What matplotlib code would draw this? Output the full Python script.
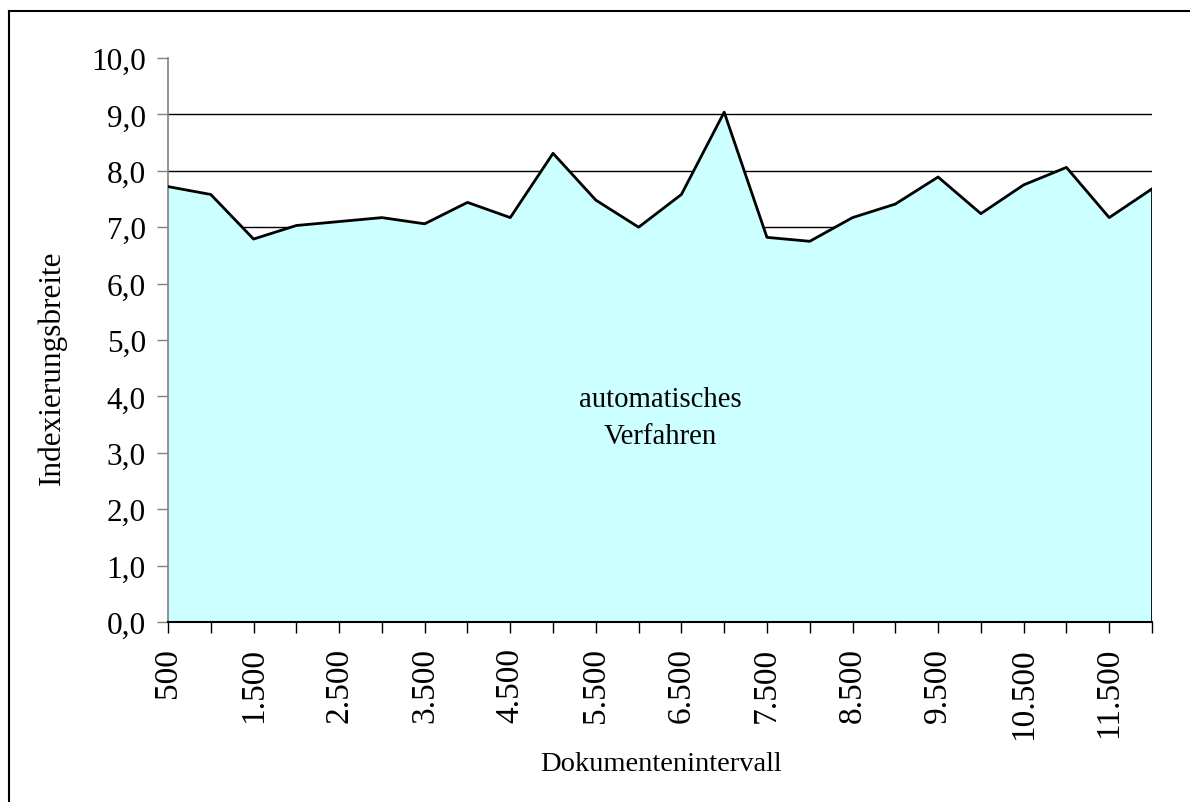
import matplotlib.pyplot as plt
from matplotlib.lines import Line2D

# Dokumentenintervalle (500er Schritte) und Indexierungsbreite
intervalle = [500, 1000, 1500, 2000, 2500, 3000, 3500, 4000, 4500, 5000, 5500, 6000,
              6500, 7000, 7500, 8000, 8500, 9000, 9500, 10000, 10500, 11000, 11500, 12000]
breite = [7.72, 7.58, 6.79, 7.03, 7.10, 7.17, 7.06, 7.44, 7.17, 8.31, 7.48, 7.00,
          7.58, 9.04, 6.82, 6.75, 7.17, 7.41, 7.89, 7.24, 7.75, 8.06, 7.17, 7.68]
y_ticks = [0, 1, 2, 3, 4, 5, 6, 7, 8, 9, 10]

plt.rcParams['font.family'] = ['Liberation Serif', 'DejaVu Serif']

fig = plt.figure(figsize=(11.9, 8.03), dpi=100)
ax = fig.add_axes([168 / 1190, 1 - 623 / 803, (1152 - 168) / 1190, (623 - 59) / 803])

pos = list(range(len(intervalle)))

# Gitterlinien (hinter der Fläche)
for v in y_ticks[1:-1]:
    ax.axhline(v, color='black', lw=1.0, zorder=1)

ax.fill_between(pos, breite, 0, facecolor='#ccffff', edgecolor='none', zorder=2)
ax.plot(pos, breite, color='black', lw=2.0, zorder=3)
ax.plot([pos[-1], pos[-1]], [0, breite[-1]], color='black', lw=2.0, zorder=3)

ax.set_xlim(0, len(pos) - 1)
ax.set_ylim(0, 10)

ax.set_yticks(y_ticks)
ax.set_yticklabels([f'{v:.1f}'.replace('.', ',') for v in y_ticks], fontsize=22.5)
ax.set_xticks(pos)
ax.set_xticklabels([f'{v:,}'.replace(',', '.') if i % 2 == 0 else '' for i, v in enumerate(intervalle)],
                   rotation=90, fontsize=24)

ax.tick_params(axis='y', length=8, width=1, color='#808080', pad=8)
ax.tick_params(axis='x', length=8, width=1, color='black', pad=10)

for s in ['top', 'right']:
    ax.spines[s].set_visible(False)
ax.spines['left'].set_color('#808080')
ax.spines['left'].set_linewidth(1.2)
ax.spines['bottom'].set_color('black')
ax.spines['bottom'].set_linewidth(1.5)
ax.spines['bottom'].set_zorder(4)

ax.text(11.5, 3.62, 'automatisches\nVerfahren', ha='center', va='center', fontsize=20.7,
        linespacing=1.55, zorder=5)

fig.text(52 / 1190, 1 - 368 / 803, 'Indexierungsbreite', rotation=90, ha='center', va='center',
         fontsize=22.5)
fig.text(661 / 1190, 1 - 765 / 803, 'Dokumentenintervall', ha='center', va='center', fontsize=20.5)

# Rahmen um das Diagramm (nur links und oben sichtbar)
fig.lines.append(Line2D([8.5 / 1190, 8.5 / 1190], [0, 1 - 12 / 803], transform=fig.transFigure,
                        color='black', lw=1.5))
fig.lines.append(Line2D([8.5 / 1190, 1], [1 - 12 / 803, 1 - 12 / 803], transform=fig.transFigure,
                        color='black', lw=1.5))

fig.savefig('out.png', dpi=100)
